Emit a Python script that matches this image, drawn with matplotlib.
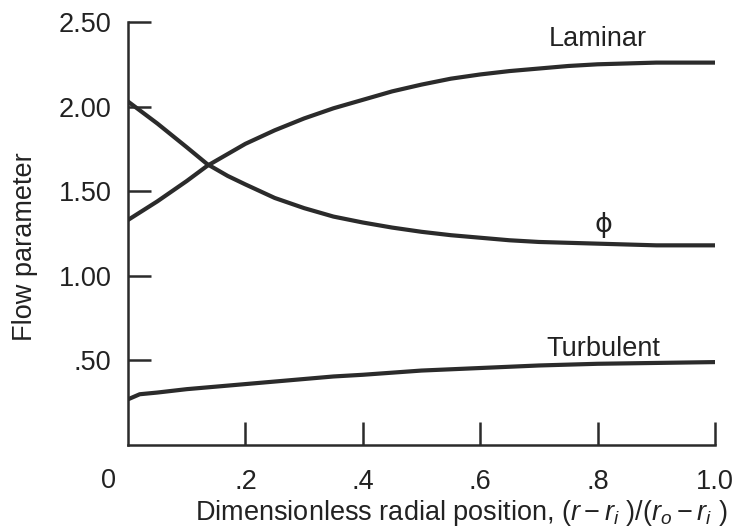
import matplotlib.pyplot as plt

# radial position
xLam = [0, 0.05, 0.1, 0.135, 0.17, 0.2, 0.25, 0.3, 0.35, 0.4, 0.45, 0.5, 0.55, 0.6, 0.65, 0.7, 0.75, 0.8, 0.85, 0.9, 1.0]
yLam = [1.33, 1.44, 1.56, 1.65, 1.72, 1.78, 1.86, 1.93, 1.99, 2.04, 2.09, 2.13, 2.165, 2.19, 2.21, 2.225, 2.24, 2.25, 2.255, 2.26, 2.26]

xPhi = [0, 0.05, 0.1, 0.135, 0.17, 0.2, 0.25, 0.3, 0.35, 0.4, 0.45, 0.5, 0.55, 0.6, 0.65, 0.7, 0.75, 0.8, 0.85, 0.9, 1.0]
yPhi = [2.03, 1.90, 1.76, 1.66, 1.59, 1.54, 1.46, 1.40, 1.35, 1.315, 1.285, 1.26, 1.24, 1.225, 1.21, 1.20, 1.195, 1.19, 1.185, 1.18, 1.18]

xTurb = [0, 0.01, 0.02, 0.05, 0.1, 0.15, 0.2, 0.25, 0.3, 0.35, 0.4, 0.5, 0.6, 0.7, 0.8, 0.9, 1.0]
yTurb = [0.27, 0.285, 0.30, 0.31, 0.33, 0.345, 0.36, 0.375, 0.39, 0.405, 0.415, 0.44, 0.455, 0.47, 0.48, 0.485, 0.49]

xTicks = [0.2, 0.4, 0.6, 0.8, 1.0]
xTickLabels = ['.2', '.4', '.6', '.8', '1.0']
yTicks = [0.5, 1.0, 1.5, 2.0, 2.5]
yTickLabels = ['.50', '1.00', '1.50', '2.00', '2.50']

plt.rcParams['font.family'] = ['Liberation Sans', 'DejaVu Sans']
plt.rcParams['mathtext.fontset'] = 'custom'
plt.rcParams['mathtext.it'] = 'Liberation Sans:italic'
plt.rcParams['mathtext.rm'] = 'Liberation Sans'

fs = 19.5
txtCol = '#222222'
fig = plt.figure(figsize=(7.41, 5.31), dpi=100)
ax = fig.add_axes([128/741, 1-445/531, 587/741, 423/531])

lineCol = '#2b2b2b'
ax.plot(xLam, yLam, color=lineCol, lw=3)
ax.plot(xPhi, yPhi, color=lineCol, lw=3)
ax.plot(xTurb, yTurb, color=lineCol, lw=3)

ax.set_xlim(0, 1.0)
ax.set_ylim(0, 2.5)
ax.spines['top'].set_visible(False)
ax.spines['right'].set_visible(False)
for s in ['left', 'bottom']:
    ax.spines[s].set_linewidth(1.8)
    ax.spines[s].set_color(lineCol)

ax.set_xticks(xTicks)
ax.set_xticklabels(xTickLabels)
ax.set_yticks(yTicks)
ax.set_yticklabels(yTickLabels)
ax.tick_params(axis='both', direction='in', length=16.5, width=1.8, color=lineCol,
               labelsize=fs, labelcolor=txtCol)
ax.tick_params(axis='x', pad=17)
ax.tick_params(axis='y', pad=12)
for t in ax.get_xticklines() + ax.get_yticklines():
    t.set_clip_on(False)

ax.text(-0.034, -0.085, '0', fontsize=fs, color=txtCol, ha='center', va='center',
        transform=ax.transAxes)

ax.text(0.80, 2.40, 'Laminar', fontsize=fs, color=txtCol, ha='center', va='center')
ax.text(0.81, 1.30, '\u03d5', fontsize=fs, color=txtCol, ha='center', va='center',
        family='DejaVu Sans')
ax.text(0.81, 0.57, 'Turbulent', fontsize=fs, color=txtCol, ha='center', va='center')

ax.set_xlabel('Dimensionless radial position, $(r - r_i\\ )/(r_o - r_i\\ )$',
              fontsize=fs, color=txtCol)
ax.xaxis.set_label_coords(0.567, -0.125)
ax.set_ylabel('Flow parameter', fontsize=fs, color=txtCol)
ax.yaxis.set_label_coords(-0.153, 0.47)

fig.savefig('out.png', dpi=100)
